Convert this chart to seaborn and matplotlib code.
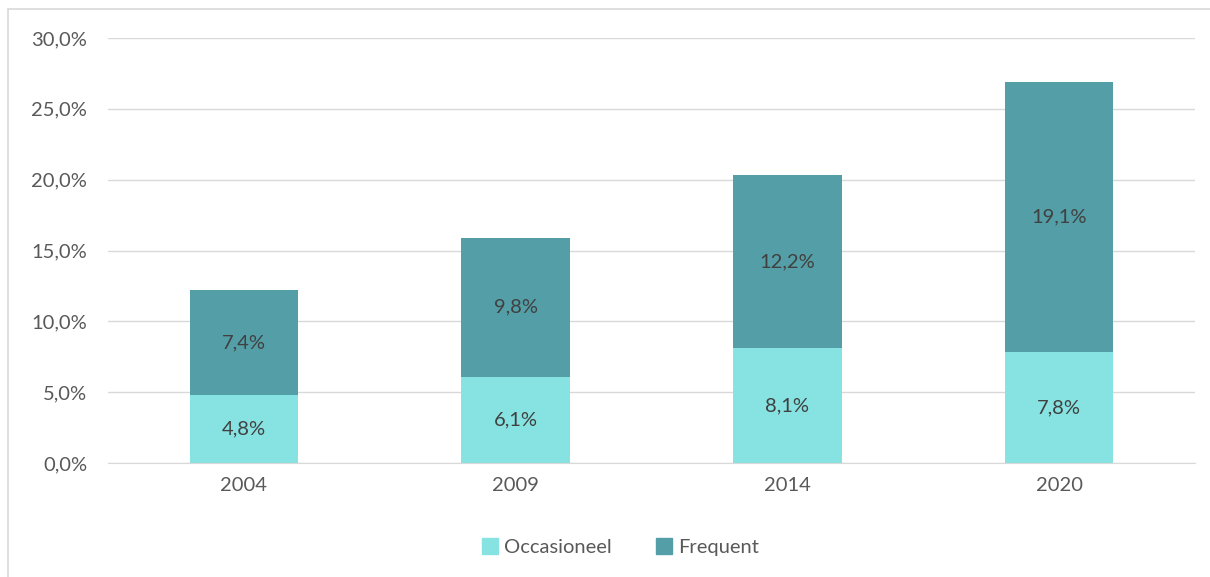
import numpy as np
import pandas as pd
import seaborn as sns
import matplotlib.pyplot as plt
from matplotlib.patches import Rectangle, Patch

years = ['2004', '2009', '2014', '2020']
occasioneel = [4.8, 6.1, 8.1, 7.8]
frequent = [7.4, 9.8, 12.2, 19.1]

light_col = '#86E3E1'
dark_col = '#549FA7'

sns.set_style('white')
plt.rcParams['font.family'] = ['Lato', 'DejaVu Sans']
fs = 14.5

df = pd.DataFrame({'Jaar': years, 'Occasioneel': occasioneel, 'Frequent': frequent})
df['Totaal'] = df['Occasioneel'] + df['Frequent']

fig = plt.figure(figsize=(12.1, 5.77), dpi=100)
ax = fig.add_axes([0.0893, 0.1976, 0.8983, 0.7365])

# stacked: total in dark, lower part in light on top of it
sns.barplot(x='Jaar', y='Totaal', data=df, color=dark_col, width=0.4, saturation=1, linewidth=0, ax=ax)
sns.barplot(x='Jaar', y='Occasioneel', data=df, color=light_col, width=0.4, saturation=1, linewidth=0, ax=ax)

for i, row in df.iterrows():
    ax.text(i, row['Occasioneel'] / 2, f"{row['Occasioneel']:.1f}%".replace('.', ','),
            ha='center', va='center', fontsize=fs, color='#404040')
    ax.text(i, row['Occasioneel'] + row['Frequent'] / 2, f"{row['Frequent']:.1f}%".replace('.', ','),
            ha='center', va='center', fontsize=fs, color='#404040')

ax.set_ylim(0, 30)
ax.set_xlim(-0.5, 3.5)
ax.set_yticks(np.arange(0, 31, 5))
ax.set_yticklabels([f"{v:.1f}%".replace('.', ',') for v in np.arange(0, 31, 5)])
ax.yaxis.grid(True, color='#D9D9D9', linewidth=1)
ax.set_axisbelow(True)
for s in ['top', 'right', 'left']:
    ax.spines[s].set_visible(False)
ax.spines['bottom'].set_color('#D9D9D9')
ax.tick_params(axis='both', length=0, labelsize=fs, labelcolor='#595959')
ax.tick_params(axis='y', pad=15)
ax.tick_params(axis='x', pad=10)
ax.set_xlabel('')
ax.set_ylabel('')

handles = [Patch(color=light_col, label='Occasioneel'), Patch(color=dark_col, label='Frequent')]
fig.legend(handles=handles, loc='center', bbox_to_anchor=(0.513, 0.052), ncol=2, frameon=False,
           fontsize=fs, labelcolor='#595959', handlelength=0.8, handleheight=0.8,
           handletextpad=0.3, columnspacing=2.2)

fig.patches.append(Rectangle((8 / 1210, -0.1), 1.5, 1 - 9 / 577 + 0.1, transform=fig.transFigure,
                             fill=False, edgecolor='#D9D9D9', linewidth=1.2))

fig.savefig('out.png', dpi=100)
